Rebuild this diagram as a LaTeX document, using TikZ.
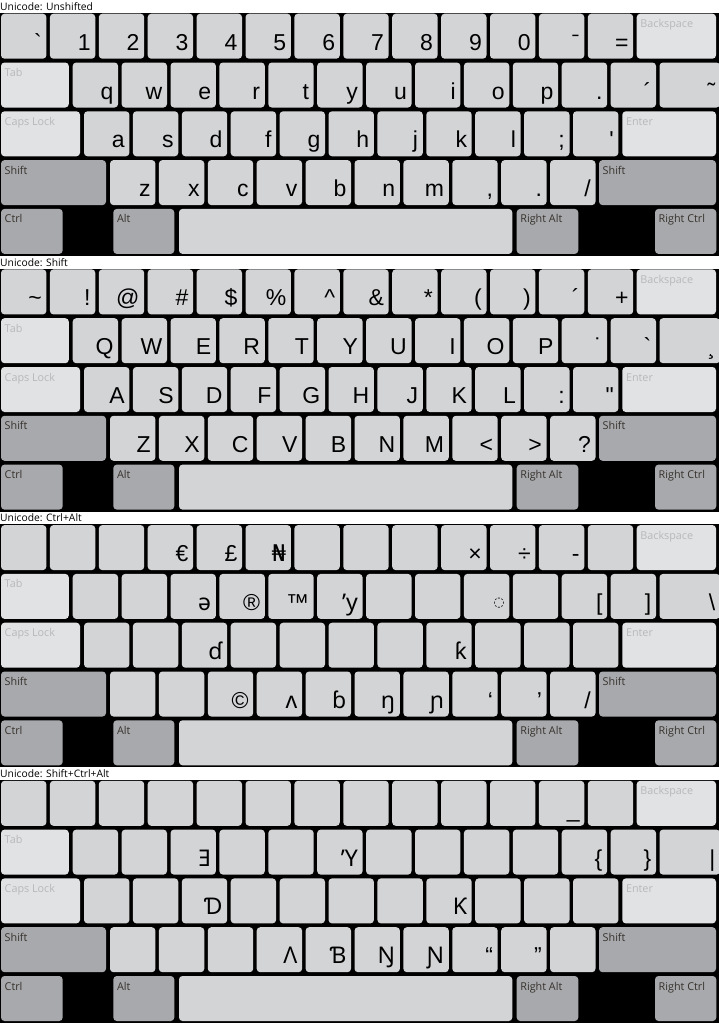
\documentclass[tikz,border=0pt]{standalone}
\usepackage{fontspec}
\setmainfont{Liberation Sans}
\newfontfamily\kfont{Liberation Sans}
\newfontfamily\labfont{Open Sans}
\newfontfamily\extfont{Noto Sans}
\newfontfamily\dvfont{DejaVu Sans}
\usetikzlibrary{calc}
\definecolor{keyN}{RGB}{211,212,214}
\definecolor{keyL}{RGB}{225,226,228}
\definecolor{keyD}{RGB}{168,169,172}
\definecolor{labL}{RGB}{184,184,186}
\definecolor{labD}{RGB}{55,50,45}
\tikzset{
  keyb/.style={fill=keyN, rounded corners=3.5pt, inner sep=0pt, outer sep=0pt, anchor=north west, minimum height=45pt},
  keyl/.style={keyb, fill=keyL},
  keyd/.style={keyb, fill=keyD},
  ch/.style={font=\kfont\fontsize{23}{23}\selectfont, inner sep=0pt, anchor=base east},
  lbl/.style={font=\labfont\fontsize{10.8}{11}\selectfont, inner sep=0pt, anchor=base west},
  lbll/.style={lbl, text=labL},
  lbld/.style={lbl, text=labD},
  hdr/.style={font=\labfont\fontsize{10.3}{11}\selectfont, inner sep=0pt, anchor=base west},
}
\newcommand\kbd[6]{%
\begin{scope}[shift={(0,{255.7*#1})}]
 \node[hdr] (H#1) at (0,10.3) {Unicode: #2};
 \fill (0,13) rectangle (719,256);
 % row 1
 \foreach \c [count=\k from 0] in {#3}{
   \node[keyb, minimum width=45.4pt] (K#1a\k) at ({1+48.9*\k},13.7) {};
   \node[ch] (C#1a\k) at ($(K#1a\k.north east)+(-4.5,36.5)$) {\c};
 }
 \node[keyl, minimum width=79.3pt] (BS#1) at (636.7,13.7) {};
 \node[lbll] (BSt#1) at ($(BS#1.north west)+(3.5,14)$) {Backspace};
 % row 2
 \node[keyl, minimum width=67.8pt] (TB#1) at (1,62.5) {};
 \node[lbll] (TBt#1) at ($(TB#1.north west)+(3.5,14)$) {Tab};
 \foreach \c [count=\k from 0] in {#4}{
   \pgfmathsetmacro\ww{ifthenelse(\k==12,60.5,45.4)}
   \node[keyb, minimum width=\ww pt] (K#1b\k) at ({72.7+48.9*\k},62.5) {};
   \node[ch] (C#1b\k) at ($(K#1b\k.north east)+(-4.5,36.5)$) {\c};
 }
 % row 3
 \node[keyl, minimum width=79pt] (CL#1) at (1,111.3) {};
 \node[lbll] (CLt#1) at ($(CL#1.north west)+(3.5,14)$) {Caps Lock};
 \foreach \c [count=\k from 0] in {#5}{
   \node[keyb, minimum width=45.4pt] (K#1c\k) at ({84+48.9*\k},111.3) {};
   \node[ch] (C#1c\k) at ($(K#1c\k.north east)+(-4.5,36.5)$) {\c};
 }
 \node[keyl, minimum width=93.7pt] (EN#1) at (622.3,111.3) {};
 \node[lbll] (ENt#1) at ($(EN#1.north west)+(3.5,14)$) {Enter};
 % row 4
 \node[keyd, minimum width=105pt] (LS#1) at (1,160.1) {};
 \node[lbld] (LSt#1) at ($(LS#1.north west)+(3.5,14)$) {Shift};
 \foreach \c [count=\k from 0] in {#6}{
   \node[keyb, minimum width=45.4pt] (K#1d\k) at ({110+48.9*\k},160.1) {};
   \node[ch] (C#1d\k) at ($(K#1d\k.north east)+(-4.5,36.5)$) {\c};
 }
 \node[keyd, minimum width=117pt] (RS#1) at (599,160.1) {};
 \node[lbld] (RSt#1) at ($(RS#1.north west)+(3.5,14)$) {Shift};
 % row 5
 \node[keyd, minimum width=61.7pt] (LC#1) at (1,208.9) {};
 \node[lbld] (LCt#1) at ($(LC#1.north west)+(3.5,14)$) {Ctrl};
 \node[keyd, minimum width=61pt] (LA#1) at (113.3,208.9) {};
 \node[lbld] (LAt#1) at ($(LA#1.north west)+(3.5,14)$) {Alt};
 \node[keyb, minimum width=333.3pt] (SP#1) at (179,208.9) {};
 \node[keyd, minimum width=61.6pt] (RA#1) at (516.7,208.9) {};
 \node[lbld] (RAt#1) at ($(RA#1.north west)+(3.5,14)$) {Right Alt};
 \node[keyd, minimum width=61.3pt] (RC#1) at (655,208.9) {};
 \node[lbld] (RCt#1) at ($(RC#1.north west)+(3.5,14)$) {Right Ctrl};
\end{scope}}
\begin{document}
\begin{tikzpicture}[x=1pt,y=-1pt]
\useasboundingbox (0,0) rectangle (719,1026);
\clip (0,0) rectangle (719,1026);
\fill[white] (0,0) rectangle (719,1026);
\kbd{0}{Unshifted}
 {{\char"60},1,2,3,4,5,6,7,8,9,0,{ˉ},{=}}
 {q,w,e,r,t,y,u,i,o,p,{.},{´},{˜}}
 {a,s,d,f,g,h,j,k,l,{;},{\char"27}}
 {z,x,c,v,b,n,m,{,},{.},{/}}
\kbd{1}{Shift}
 {{\char"7E},{!},{@},{\#},{\$},{\%},{\char"5E},{\&},{*},{(},{)},{´},{+}}
 {Q,W,E,R,T,Y,U,I,O,P,{˙},{\char"60},{¸}}
 {A,S,D,F,G,H,J,K,L,{:},{\char"22}}
 {Z,X,C,V,B,N,M,{<},{>},{?}}
\kbd{2}{Ctrl+Alt}
 {{},{},{},{€},{£},{\dvfont ₦},{},{},{},{×},{÷},{-},{}}
 {{},{},{\extfont ə},{®},{™},{\extfont ʼy},{},{},{\dvfont\fontsize{13}{13}\selectfont\raisebox{4pt}{◌}\hspace{3pt}},{},{[},{]},{\textbackslash}}
 {{},{},{\extfont ɗ},{},{},{},{},{\extfont ƙ},{},{},{}}
 {{},{},{©},{\extfont ʌ},{\extfont ɓ},{\extfont ŋ},{\extfont ɲ},{‘},{’},{/}}
\kbd{3}{Shift+Ctrl+Alt}
 {{},{},{},{},{},{},{},{},{},{},{},{\_},{}}
 {{},{},{\extfont Ǝ},{},{},{\extfont ʼY},{},{},{},{},{\{},{\}},{|}}
 {{},{},{\extfont Ɗ},{},{},{},{},{\extfont Ƙ},{},{},{}}
 {{},{},{},{\extfont Ʌ},{\extfont Ɓ},{\extfont Ŋ},{\extfont Ɲ},{“},{”},{}}
\end{tikzpicture}
\end{document}
